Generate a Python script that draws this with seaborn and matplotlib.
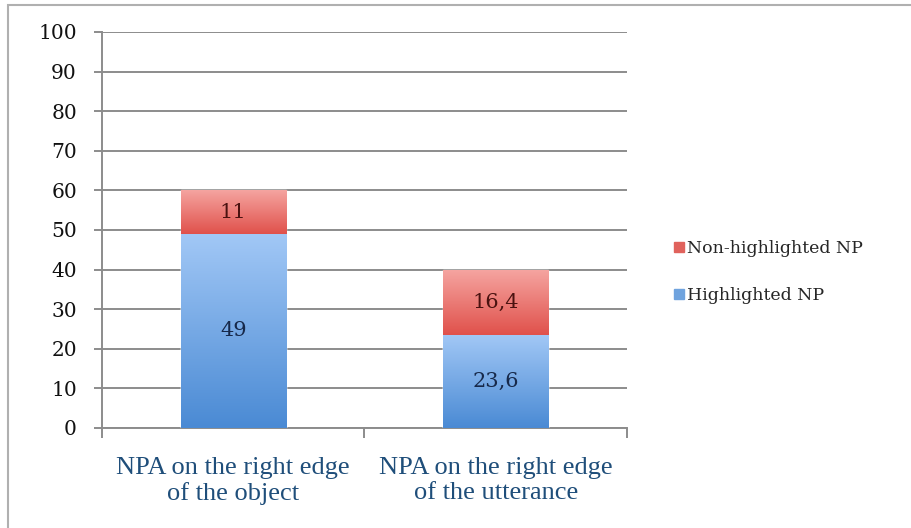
import numpy as np
import pandas as pd
import matplotlib.pyplot as plt
import seaborn as sns
from matplotlib.colors import LinearSegmentedColormap
from matplotlib.patches import Rectangle
from matplotlib.lines import Line2D

# ------------------------------------------------
# data
# ------------------------------------------------
categories = ["NPA on the right edge\nof the object", "NPA on the right edge\nof the utterance"]
highlighted = [49, 23.6]
non_highlighted = [11, 16.4]
highlighted_labels = ["49", "23,6"]
non_highlighted_labels = ["11", "16,4"]

df = pd.DataFrame({"category": categories,
                   "highlighted": highlighted,
                   "non_highlighted": non_highlighted})
df["total"] = df["highlighted"] + df["non_highlighted"]

sns.set_style("white")
plt.rcParams["font.family"] = ["DejaVu Serif"]

fig = plt.figure(figsize=(9.12, 5.28), dpi=100)
ax = fig.add_axes([0.1118, 0.1894, 0.5757, 0.75])

# stacked bars: total (red) first, then highlighted (blue) on top of it
sns.barplot(data=df, x="category", y="total", color="#E26B66", width=0.4,
            saturation=1, ax=ax, zorder=3)
sns.barplot(data=df, x="category", y="highlighted", color="#5B9BD5", width=0.4,
            saturation=1, ax=ax, zorder=3)

# gradient fills like the office chart
red_cmap = LinearSegmentedColormap.from_list("r", ["#F5A4A0", "#E0514B"])
blue_cmap = LinearSegmentedColormap.from_list("b", ["#A2C8F6", "#4A8AD4"])
grad = np.linspace(0, 1, 256).reshape(-1, 1)
n = len(categories)
for i, p in enumerate(ax.patches):
    cmap = red_cmap if i < n else blue_cmap
    x0, y0 = p.get_x(), p.get_y()
    w, h = p.get_width(), p.get_height()
    if i < n:
        # only the visible red part (above the blue)
        ext = [x0, x0 + w, highlighted[i], y0 + h]
    else:
        ext = [x0, x0 + w, y0, y0 + h]
    im = ax.imshow(grad, cmap=cmap, aspect="auto", extent=ext, origin="upper",
                   zorder=4, interpolation="bilinear")
    im.set_clip_path(p)

# value labels
for i in range(n):
    ax.text(i, highlighted[i] / 2, highlighted_labels[i], ha="center", va="center",
            fontsize=15, color="#17294A", zorder=6)
    ax.text(i, highlighted[i] + non_highlighted[i] / 2, non_highlighted_labels[i],
            ha="center", va="center", fontsize=15, color="#4A1210", zorder=6)

ax.set_ylim(0, 100)
ax.set_xlim(-0.5, 1.5)
ax.set_yticks(range(0, 101, 10))
ax.yaxis.grid(True, color="#8C8C8C", linewidth=1.4, zorder=0)
ax.set_axisbelow(True)
ax.set_xlabel("")
ax.set_ylabel("")

for s in ["top", "right"]:
    ax.spines[s].set_visible(False)
for s in ["left", "bottom"]:
    ax.spines[s].set_color("#8C8C8C")
    ax.spines[s].set_linewidth(1.4)

ax.tick_params(axis="y", length=6, width=1.4, color="#8C8C8C", labelsize=14.5,
               labelcolor="#111111", pad=12, left=True)
ax.set_xticks([0, 1])
ax.set_xticklabels(categories, fontsize=19, color="#1F4E7A",
                   family="Liberation Serif", linespacing=1.15)
ax.tick_params(axis="x", length=0, pad=21)
ax.set_xticks([-0.5, 0.5, 1.5], minor=True)
ax.tick_params(axis="x", which="minor", length=7, width=1.4, color="#8C8C8C",
               bottom=True)

# legend
handles = [Line2D([], [], marker="s", linestyle="", markersize=7,
                  markerfacecolor="#E0625C", markeredgecolor="#E0625C"),
           Line2D([], [], marker="s", linestyle="", markersize=7,
                  markerfacecolor="#6FA3DE", markeredgecolor="#6FA3DE")]
fig.legend(handles, ["Non-highlighted NP", "Highlighted NP"],
           loc="center left", bbox_to_anchor=(0.72, 0.485), frameon=False,
           fontsize=12.5, handletextpad=0.05, labelspacing=1.7, handlelength=0.8)

# outer frame
fig.patches.append(Rectangle((0.009, -0.1), 1.2, 1.09, transform=fig.transFigure,
                             fill=False, edgecolor="#B0B0B0", linewidth=1.5))

plt.savefig("out.png", dpi=100)
